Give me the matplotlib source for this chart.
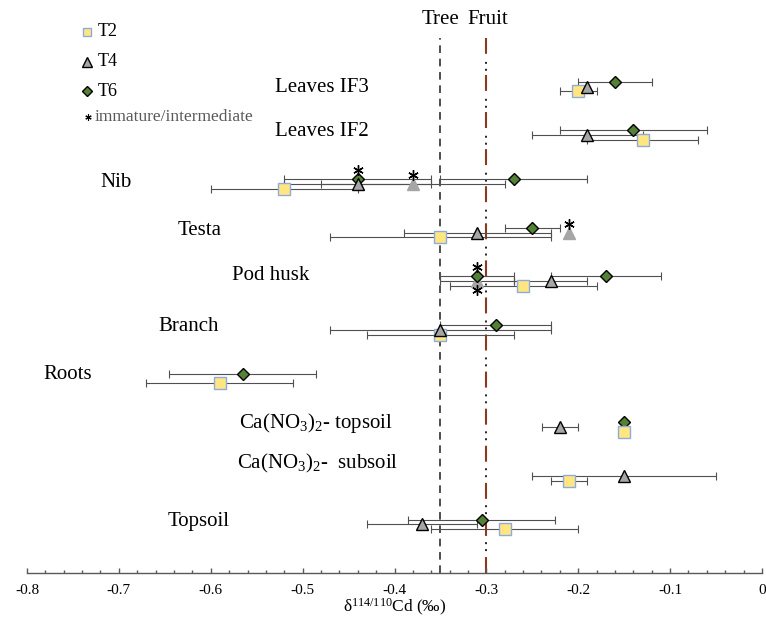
import matplotlib
matplotlib.use("Agg")
import matplotlib.pyplot as plt
import matplotlib.transforms as mtransforms
from matplotlib.ticker import MultipleLocator, FuncFormatter
import numpy as np

plt.rcParams['font.family'] = ['Liberation Serif', 'DejaVu Serif']
plt.rcParams['mathtext.fontset'] = 'custom'
plt.rcParams['mathtext.rm'] = 'Liberation Serif'
plt.rcParams['mathtext.it'] = 'Liberation Serif:italic'
plt.rcParams['lines.scale_dashes'] = False

nan = np.nan

# sample types, top to bottom
rows = ["Leaves IF3", "Leaves IF2", "Nib", "Testa", "Pod husk", "Branch", "Roots",
        "Ca(NO$_3$)$_2$- topsoil", "Ca(NO$_3$)$_2$-  subsoil", "Topsoil"]
row_y = [10, 9, 8, 7, 6, 5, 4, 3, 2, 1]

# delta 114/110 Cd (permil) and error
t2 = [-0.20, -0.13, -0.52, -0.35, -0.26, -0.35, -0.59, -0.15, -0.21, -0.28]
t2_err = [0.02, 0.06, 0.08, 0.12, 0.08, 0.08, 0.08, 0.0, 0.02, 0.08]
t4 = [-0.19, -0.19, -0.44, -0.31, -0.23, -0.35, nan, -0.22, -0.15, -0.37]
t4_err = [0.0, 0.06, 0.08, 0.08, 0.04, 0.12, nan, 0.02, 0.10, 0.06]
t6 = [-0.16, -0.14, -0.27, -0.25, -0.17, -0.29, -0.565, -0.15, nan, -0.305]
t6_err = [0.04, 0.08, 0.08, 0.03, 0.06, 0.06, 0.08, 0.0, nan, 0.08]

# immature/intermediate samples
imm4_rows = ["Nib", "Testa", "Pod husk"]
imm4 = [-0.38, -0.21, -0.31]
imm4_err = [0.10, 0.0, 0.04]
imm4_star = [1, 1, -1]   # asterisk above (1) or below (-1)
imm6_rows = ["Nib", "Pod husk"]
imm6 = [-0.44, -0.31]
imm6_err = [0.08, 0.04]
imm6_star = [1, 1]

tree = -0.35
fruit = -0.30

# layout of the row labels (left x in data, y in data)
label_x = [-0.530, -0.530, -0.7205, -0.6357, -0.5769, -0.6574, -0.7826, -0.5692, -0.5714, -0.6465]
label_y = [9.99, 9.07, 8.02, 7.05, 6.11, 5.06, 4.09, 3.08, 2.26, 1.05]

off = {"T6": 0.1, "T4": 0.0, "T2": -0.1}
ypos = {name: y for name, y in zip(rows, row_y)}

fig = plt.figure(figsize=(7.66, 6.28), dpi=100)
ax = fig.add_axes([27 / 766, 1 - 573 / 628, 735 / 766, 535 / 628])
ax.set_xlim(-0.8, 0)
ax.set_ylim(0, 11)

ecol = '#505050'
eb = dict(fmt='none', ecolor=ecol, elinewidth=0.8, capsize=2.8, capthick=0.8, zorder=2)

y2 = np.array(row_y) + off["T2"]
y4 = np.array(row_y) + off["T4"]
y6 = np.array(row_y) + off["T6"]
yi4 = np.array([ypos[r] for r in imm4_rows]) + off["T4"]
yi6 = np.array([ypos[r] for r in imm6_rows]) + off["T6"]

ax.errorbar(t2, y2, xerr=t2_err, **eb)
ax.errorbar(t4, y4, xerr=t4_err, **eb)
ax.errorbar(t6, y6, xerr=t6_err, **eb)
ax.errorbar(imm4, yi4, xerr=imm4_err, **eb)
ax.errorbar(imm6, yi6, xerr=imm6_err, **eb)

# reference lines
ax.axvline(tree, color='#404040', lw=1.3, linestyle=(0, (5.5, 4.1)), zorder=1)
ax.axvline(fruit, color='#8B3A1E', lw=1.5, linestyle=(0, (11.5, 15.2)), zorder=1)
ax.axvline(fruit, color='#222222', lw=1.4, linestyle=(-15.8, (1.4, 3.6, 1.4, 20.2)), zorder=1)

sq = dict(marker='s', ms=8.5, mfc='#FFE680', mec='#8FAADC', mew=1.0, ls='none')
tri = dict(marker='^', ms=9, mfc='#A6A6A6', mec='black', mew=1.0, ls='none')
dia = dict(marker='D', ms=6, mfc='#548235', mec='black', mew=1.0, ls='none')

ax.plot(imm4, yi4, marker='^', ms=9, mfc='#A6A6A6', mec='#A6A6A6', ls='none', zorder=3)
ax.plot(imm6, yi6, zorder=4, **dia)
ax.plot(t6, y6, zorder=5, **dia)
ax.plot(t2, y2, zorder=6, **sq)
ax.plot(t4, y4, zorder=7, **tri)

# asterisks for immature/intermediate samples
for xs, ys, sides in [(imm4, yi4, imm4_star), (imm6, yi6, imm6_star)]:
    for x, y, s in zip(xs, ys, sides):
        tr = mtransforms.offset_copy(ax.transData, fig=fig, x=0, y=6.5 * s, units='points')
        ax.plot([x], [y], marker=(6, 2, 0), ms=7.5, mec='black', mew=1.0, ls='none',
                transform=tr, zorder=8, clip_on=False)

for name, lx, ly in zip(rows, label_x, label_y):
    ax.text(lx, ly, name, fontsize=15, ha='left', va='center', color='black')

# Tree / Fruit headers
btr = mtransforms.blended_transform_factory(ax.transData, fig.transFigure)
ax.text(tree, 1 - 19 / 628, "Tree", transform=btr, ha='center', va='center', fontsize=15)
ax.text(-0.298, 1 - 19 / 628, "Fruit", transform=btr, ha='center', va='center', fontsize=15)

# legend, drawn by hand
leg_names = ["T2", "T4", "T6", "immature/intermediate"]
leg_py = [32, 62, 91, 117]
ft = fig.transFigure
fig.lines.append(plt.Line2D([87 / 766], [1 - leg_py[0] / 628], transform=ft, marker='s', ms=6,
                            mfc='#FFE680', mec='#8FAADC', mew=1.0, ls='none'))
fig.lines.append(plt.Line2D([87 / 766], [1 - leg_py[1] / 628], transform=ft, marker='^', ms=7.5,
                            mfc='#A6A6A6', mec='black', mew=1.0, ls='none'))
fig.lines.append(plt.Line2D([87 / 766], [1 - leg_py[2] / 628], transform=ft, marker='D', ms=5.2,
                            mfc='#548235', mec='black', mew=1.0, ls='none'))
fig.lines.append(plt.Line2D([88 / 766], [1 - leg_py[3] / 628], transform=ft, marker=(6, 2, 0), ms=4.5,
                            mec='black', mew=0.8, ls='none'))
for i, name in enumerate(leg_names):
    col = '#595959' if i == 3 else 'black'
    fs = 12.5 if i == 3 else 13
    fig.text((98 if i < 3 else 95) / 766, 1 - leg_py[i] / 628, name, color=col, fontsize=fs,
             ha='left', va='center')

# axes styling
for s in ['left', 'right', 'top']:
    ax.spines[s].set_visible(False)
ax.spines['bottom'].set_color('#595959')
ax.spines['bottom'].set_linewidth(1.0)
ax.set_yticks([])
ax.xaxis.set_major_locator(MultipleLocator(0.1))
ax.xaxis.set_minor_locator(MultipleLocator(0.02))
ax.xaxis.set_major_formatter(FuncFormatter(lambda v, p: "0" if abs(v) < 1e-9 else f"{v:.1f}"))
ax.tick_params(axis='x', which='major', direction='in', length=3.5, width=1, color='#595959',
               labelsize=11, pad=8)
ax.tick_params(axis='x', which='minor', direction='in', length=2, width=1, color='#595959')
ax.set_xlabel("δ$^{114/110}$Cd (‰)", fontsize=12.5, labelpad=0)

fig.savefig("out.png", dpi=100)
